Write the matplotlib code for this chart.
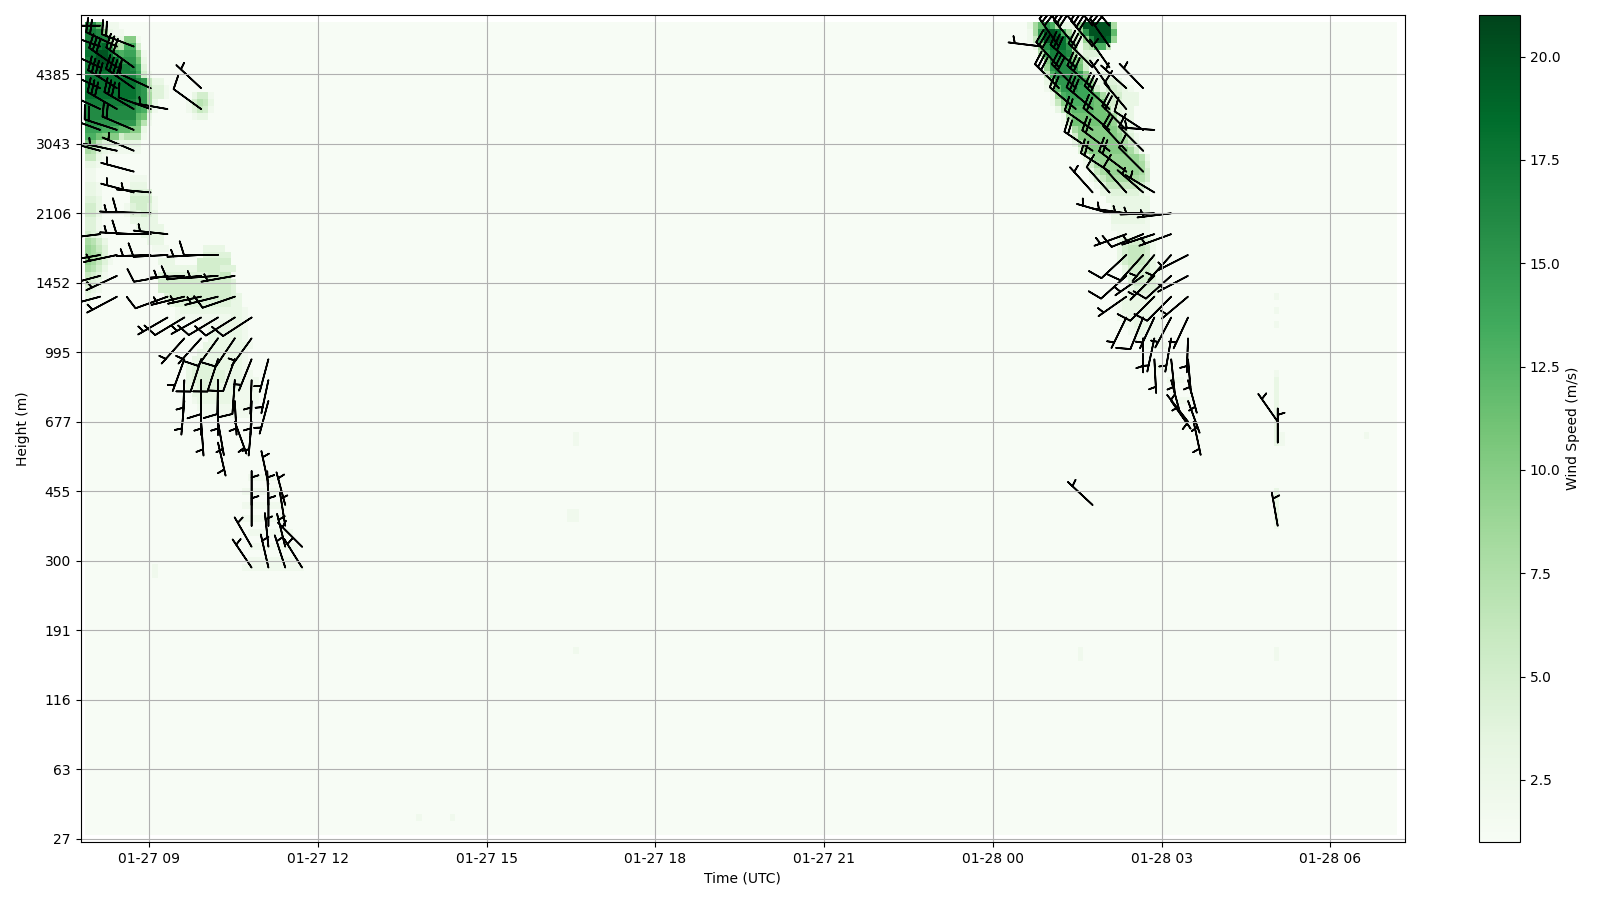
import numpy as np
import matplotlib
matplotlib.use('Agg')
import matplotlib.pyplot as plt

height_labels = [27, 63, 116, 191, 300, 455, 677, 995, 1452, 2106, 3043, 4385]
time_ticks = [9, 12, 15, 18, 21, 24, 27, 30]
time_labels = ['01-27 09', '01-27 12', '01-27 15', '01-27 18', '01-27 21', '01-28 00', '01-28 03', '01-28 06']

# hand read speeds: (row, first col, values)
heat_left = [
    (117, 0, [2, 15, 16, 12, 4, 2, 2]),
    (116, 0, [2, 17, 17, 16, 9, 3, 2, 2]),
    (115, 0, [3, 17, 17, 17, 16, 8, 4, 3, 10, 10, 2]),
    (114, 0, [4, 17, 17, 18, 19, 14, 8, 7, 13, 13, 5]),
    (113, 0, [5, 18, 18, 20, 20, 18, 14, 13, 14, 14, 9, 2]),
    (112, 0, [6, 17, 18, 20, 20, 19, 18, 15, 15, 15, 11, 3]),
    (111, 0, [8, 17, 18, 19, 19, 19, 18, 17, 17, 16, 13, 4]),
    (110, 0, [15, 18, 18, 18, 18, 18, 18, 17, 17, 17, 14, 5, 2]),
    (109, 0, [15, 18, 18, 18, 18, 18, 18, 18, 18, 18, 16, 15, 6, 3, 3]),
    (108, 0, [15, 18, 18, 18, 18, 18, 18, 18, 18, 18, 16, 15, 7, 4, 4, 2]),
    (107, 0, [15, 18, 18, 18, 18, 18, 18, 18, 18, 18, 16, 15, 8, 4, 4, 2]),
    (107, 20, [3, 5, 5, 2]),
    (106, 0, [14, 17, 17, 17, 17, 17, 17, 17, 17, 17, 15, 15, 8, 3]),
    (106, 19, [2, 5, 7, 6, 3]),
    (105, 0, [13, 16, 16, 16, 16, 16, 16, 16, 16, 16, 14, 13, 6, 2]),
    (105, 19, [2, 4, 6, 5, 2]),
    (104, 0, [13, 16, 16, 16, 16, 16, 16, 16, 16, 16, 12, 11, 3]),
    (104, 20, [2, 3, 3]),
    (103, 0, [12, 15, 15, 15, 15, 15, 15, 15, 15, 15, 11, 7, 2]),
    (102, 0, [11, 14, 14, 14, 13, 13, 13, 12, 12, 10, 10, 3]),
    (101, 0, [9, 13, 13, 11, 10, 10, 10, 5, 7, 7, 7, 2]),
    (100, 0, [6, 10, 10, 6, 4, 4, 4, 3, 3, 3, 3]),
    (99, 0, [4, 8, 7, 4, 3, 2, 2, 2, 2, 2, 2]),
    (98, 0, [3, 6, 6, 3, 2]),
    (97, 0, [2, 3, 3, 2]),
    (96, 0, [2, 2, 2]),
    (95, 0, [2, 2, 2]),
    (95, 9, [2, 2, 2]),
    (94, 0, [3, 3, 3, 2]),
    (94, 9, [3, 3, 3]),
    (93, 0, [3, 3, 3, 2]),
    (93, 9, [4, 4, 4, 4]),
    (92, 0, [4, 4, 4, 3]),
    (92, 9, [5, 5, 5, 5, 2]),
    (91, 0, [5, 5, 5, 3]),
    (91, 8, [2, 4, 5, 5, 4, 2]),
    (90, 0, [5, 5, 5, 3]),
    (90, 8, [2, 4, 4, 5, 4, 3]),
    (89, 0, [4, 4, 4, 2]),
    (89, 9, [3, 3, 3, 3, 3]),
    (88, 0, [4, 4, 4, 2]),
    (88, 10, [3, 3, 3, 3, 3]),
    (87, 0, [5, 5, 4, 3]),
    (87, 11, [3, 3, 3, 3]),
    (86, 0, [7, 8, 7, 5, 3]),
    (86, 12, [3, 3, 3]),
    (85, 0, [9, 9, 8, 6, 4]),
    (85, 13, [2, 2, 2]),
    (85, 22, [3, 3, 3, 3]),
    (84, 0, [9, 9, 8, 7, 4]),
    (84, 22, [4, 4, 4, 4, 4]),
    (83, 0, [8, 9, 8, 6, 4, 2]),
    (83, 14, [3, 3, 3]),
    (83, 21, [5, 5, 5, 5, 5, 5]),
    (82, 0, [8, 8, 7, 5, 3]),
    (82, 15, [3, 3, 3, 3, 3, 3, 5, 5, 5, 5, 4, 4, 4]),
    (81, 0, [6, 6, 5, 4, 2]),
    (81, 14, [4, 4, 4, 4, 4, 4, 4, 4, 4, 5, 5, 6, 6]),
    (80, 0, [5, 5, 4, 3]),
    (80, 14, [5, 5, 5, 5, 5, 5, 5, 5, 5, 5, 5, 5, 5, 4]),
    (79, 0, [4, 4, 3, 2]),
    (79, 14, [5, 5, 5, 5, 5, 5, 5, 5, 5, 5, 5, 5, 5, 4]),
    (78, 0, [3, 3, 2]),
    (78, 15, [4, 5, 5, 5, 5, 5, 5, 5, 5, 5, 5, 5, 4, 3]),
    (77, 0, [2, 2]),
    (77, 16, [3, 4, 4, 4, 4, 4, 4, 4, 4, 4, 4, 3, 3]),
    (76, 17, [2, 3, 3, 3, 3, 3, 3, 3, 3, 3, 3, 3, 2]),
    (75, 17, [2, 2, 2, 2, 2, 2, 2, 2, 2, 2, 3, 3, 2]),
    (74, 22, [2, 2, 2, 3, 3, 3, 3, 2]),
    (73, 23, [3, 3, 3, 3, 3, 3, 2]),
    (72, 23, [3, 3, 3, 3, 3, 3, 2]),
    (71, 22, [3, 3, 3, 3, 3, 3, 3, 3, 2]),
    (70, 21, [3, 3, 3, 3, 3, 3, 3, 3, 2]),
    (69, 20, [3, 3, 3, 3, 3, 3, 3, 3, 3, 2]),
    (68, 19, [3, 4, 4, 4, 4, 4, 3, 3, 3, 3, 2]),
    (67, 19, [3, 4, 4, 4, 4, 4, 4, 3, 3, 3, 2, 2]),
    (66, 19, [3, 4, 4, 4, 4, 4, 4, 3, 3, 3, 2, 2, 2]),
    (65, 19, [3, 3, 4, 4, 4, 4, 3, 3, 3, 3, 2, 2, 2]),
    (64, 20, [3, 3, 3, 3, 3, 3, 3, 3, 2, 2, 2, 2]),
    (63, 20, [2, 3, 3, 3, 3, 3, 3, 2, 2, 2, 2, 2]),
    (62, 21, [2, 2, 2, 2, 2, 2, 2, 2, 2, 2]),
    (61, 22, [2, 2, 2, 2, 2, 2, 2, 2, 2]),
    (52, 30, [2, 2, 2, 2, 2]),
    (50, 29, [2, 2, 2, 2, 2, 2, 2]),
    (48, 29, [2, 2, 2, 2, 2, 2, 2, 2]),
    (46, 29, [2, 2, 2, 2, 2, 2, 2, 2]),
    (44, 30, [2, 2, 2, 2, 2, 2, 2, 2]),
    (42, 30, [2, 2, 2, 2, 2, 2, 2, 2, 2]),
    (40, 30, [2, 2, 2, 2, 2, 2, 2, 2, 2]),
    (39, 29, [2, 2, 2, 2, 2, 2, 2, 2, 2, 2, 2]),
]

heat_right = [
    (117, 169, [3, 8, 12, 15, 13, 8, 3, 3, 3, 9, 20, 20, 20, 20, 20, 8]),
    (116, 169, [2, 8, 15, 20, 20, 18, 13, 8, 3, 9, 15, 20, 20, 20, 20, 12]),
    (115, 169, [2, 6, 14, 20, 20, 20, 18, 13, 5, 3, 9, 16, 20, 20, 19, 9]),
    (114, 170, [3, 9, 16, 18, 18, 18, 15, 7, 2, 6, 7, 13, 13, 6]),
    (113, 171, [7, 14, 17, 17, 17, 16, 8, 2, 4, 4, 4]),
    (112, 172, [10, 16, 16, 16, 14, 10, 10, 5, 3, 2]),
    (111, 172, [9, 15, 16, 16, 16, 15, 11, 5, 2, 2]),
    (110, 172, [6, 13, 16, 16, 16, 15, 15, 10, 3, 2, 3, 3]),
    (109, 172, [3, 9, 15, 15, 15, 15, 15, 13, 9, 3, 3, 4, 4, 3]),
    (108, 172, [2, 5, 12, 15, 15, 15, 14, 14, 12, 5, 3, 5, 5, 4, 3, 2]),
    (107, 173, [2, 9, 13, 14, 14, 14, 14, 13, 12, 8, 4, 5, 5, 3, 3, 3]),
    (106, 173, [2, 6, 10, 13, 13, 13, 13, 12, 11, 11, 5, 5, 4, 3, 3, 3]),
    (105, 174, [3, 7, 11, 12, 12, 12, 12, 11, 11, 8, 4, 4, 3, 3]),
    (104, 175, [2, 8, 11, 11, 11, 11, 11, 11, 11, 8, 4, 3, 3]),
    (103, 175, [2, 5, 11, 11, 11, 11, 11, 11, 11, 9, 5, 3, 3]),
    (102, 176, [2, 8, 10, 10, 10, 10, 10, 10, 10, 8, 5, 3]),
    (101, 177, [5, 10, 10, 10, 10, 10, 10, 10, 9, 7, 4, 2]),
    (100, 177, [3, 7, 10, 10, 10, 10, 10, 10, 10, 8, 6, 3]),
    (99, 178, [4, 8, 10, 10, 10, 10, 10, 10, 10, 8, 5, 2]),
    (98, 179, [3, 6, 9, 9, 9, 9, 9, 9, 9, 9, 7, 3]),
    (97, 179, [2, 5, 8, 9, 9, 9, 9, 9, 9, 9, 8, 4]),
    (96, 180, [3, 6, 8, 9, 9, 9, 9, 9, 9, 8, 5]),
    (95, 180, [2, 4, 6, 8, 8, 8, 8, 8, 8, 7, 5]),
    (94, 181, [2, 4, 6, 6, 6, 6, 6, 6, 5, 3]),
    (93, 182, [3, 3, 4, 4, 4, 4, 4, 3, 2]),
    (92, 183, [3, 3, 3, 3, 3, 3, 3, 3]),
    (91, 184, [3, 3, 3, 3, 3, 3, 3]),
    (90, 184, [3, 3, 3, 3, 3, 3, 3]),
    (89, 184, [3, 3, 3, 3, 3, 3, 2]),
    (88, 184, [2, 2, 2, 2, 2, 2, 2]),
    (87, 185, [2, 2, 2, 2, 2, 2]),
    (86, 185, [3, 4, 5, 5, 5, 4, 2]),
    (85, 185, [3, 5, 6, 6, 6, 5, 2]),
    (84, 185, [3, 5, 6, 6, 6, 5, 2]),
    (83, 185, [3, 5, 6, 6, 6, 5, 3]),
    (82, 186, [3, 5, 5, 5, 5, 3, 2]),
    (81, 186, [3, 4, 5, 5, 5, 4, 2]),
    (80, 187, [4, 5, 5, 5, 4, 3]),
    (79, 187, [3, 4, 4, 4, 4, 3]),
    (78, 186, [2, 3, 3, 3, 3, 3, 2]),
    (77, 185, [2, 3, 3, 3, 3, 3, 2, 2]),
    (76, 185, [2, 3, 3, 3, 3, 3, 2, 2]),
    (75, 185, [2, 2, 3, 3, 3, 3, 2, 2]),
    (74, 186, [2, 2, 3, 3, 3, 2, 2]),
    (73, 187, [2, 2, 3, 2, 2, 2]),
    (72, 188, [2, 2, 2, 2, 2]),
    (71, 190, [2, 2, 2, 2]),
    (68, 192, [2, 2, 2]),
    (66, 194, [2, 2, 2]),
    (63, 196, [2, 2]),
]

# small faint spots on the rest of the panel: (row, col, value)
heat_spots = [
    (78, 213, 2), (76, 213, 2), (74, 213, 2),
    (67, 213, 2), (66, 213, 3), (65, 213, 3), (64, 213, 3), (63, 213, 3), (62, 213, 3), (61, 213, 3),
    (60, 213, 3), (59, 213, 3), (58, 213, 3), (57, 213, 3), (58, 214, 2), (57, 214, 2),
    (50, 213, 3), (49, 213, 3), (48, 213, 3), (47, 213, 3), (46, 213, 3), (45, 213, 2),
    (58, 88, 2), (57, 88, 2), (47, 87, 2), (46, 87, 2), (47, 88, 2), (46, 88, 2),
    (58, 229, 2), (27, 213, 2), (26, 213, 2), (27, 178, 2), (26, 178, 2), (27, 88, 2),
    (3, 60, 2), (3, 66, 2), (39, 13, 2), (38, 13, 2),
]

# barbs: (row, col, direction of staff in degrees, speed)
barbs_left = [
    (117, 3, 180, 5), (114, 3, 160, 20), (114, 6, 155, 20), (114, 9, 159, 20),
    (111, 3, 155, 30), (111, 6, 145, 30), (111, 9, 144, 30),
    (108, 3, 155, 30), (108, 6, 148, 40), (108, 9, 145, 40), (108, 12, 155, 10), (108, 21, 137, 5),
    (105, 3, 155, 30), (105, 6, 150, 30), (105, 9, 150, 30), (105, 12, 160, 10), (105, 15, 170, 5), (105, 21, 144, 10),
    (102, 3, 160, 20), (102, 6, 162, 20), (102, 9, 157, 20),
    (99, 3, 165, 5), (99, 6, 168, 5), (99, 9, 157, 5),
    (96, 9, 165, 5), (93, 9, 165, 5), (93, 12, 175, 5),
    (90, 9, 177, 5), (90, 12, 178, 10),
    (87, 3, 187, 5), (87, 9, 177, 5), (87, 12, 180, 10), (87, 15, 174, 5),
    (84, 3, 190, 5), (84, 6, 192, 5), (84, 12, 182, 5), (84, 15, 183, 10), (84, 21, 183, 5), (84, 24, 180, 10),
    (81, 3, 195, 5), (81, 6, 205, 5), (81, 15, 190, 10), (81, 18, 183, 5), (81, 21, 186, 10), (81, 24, 184, 5), (81, 27, 190, 5),
    (78, 3, 195, 5), (78, 6, 208, 5), (78, 15, 200, 10), (78, 18, 194, 5), (78, 21, 192, 5), (78, 24, 194, 5), (78, 27, 199, 10),
    (75, 15, 210, 5), (75, 18, 211, 10), (75, 21, 209, 5), (75, 24, 211, 10), (75, 27, 212, 10), (75, 30, 213, 10),
    (72, 18, 228, 5), (72, 21, 228, 5), (72, 24, 234, 10), (72, 27, 236, 10), (72, 30, 234, 5),
    (69, 18, 250, 5), (69, 21, 252, 10), (69, 24, 252, 10), (69, 27, 250, 10), (69, 30, 248, 5), (69, 33, 255, 5),
    (66, 18, 268, 5), (66, 21, 270, 10), (66, 24, 269, 10), (66, 27, 266, 10), (66, 30, 268, 5), (66, 33, 258, 5),
    (63, 18, 265, 5), (63, 21, 270, 5), (63, 24, 270, 5), (63, 27, 273, 5), (63, 30, 268, 5), (63, 33, 255, 5),
    (60, 21, 274, 5), (60, 24, 280, 5), (60, 27, 290, 5), (60, 30, 265, 5),
    (57, 24, 283, 5), (51, 33, 102, 5),
    (48, 30, 90, 5), (48, 33, 92, 5), (48, 36, 105, 5),
    (45, 30, 90, 5), (45, 33, 90, 5), (45, 36, 99, 5),
    (42, 30, 120, 5), (42, 33, 96, 5), (42, 36, 104, 5), (42, 39, 135, 5),
    (39, 30, 124, 5), (39, 33, 103, 5), (39, 36, 108, 5), (39, 39, 122, 5),
]

barbs_right = [
    (117, 174, 125, 30), (117, 177, 130, 30), (117, 180, 130, 30), (117, 183, 130, 30),
    (114, 171, 173, 5), (114, 174, 125, 30), (114, 177, 130, 30), (114, 180, 130, 40), (114, 183, 125, 30),
    (111, 174, 132, 30), (111, 177, 138, 30), (111, 180, 135, 30), (111, 183, 125, 5),
    (108, 174, 135, 30), (108, 177, 135, 30), (108, 180, 138, 30), (108, 183, 125, 5), (108, 186, 138, 5), (108, 189, 134, 5),
    (105, 177, 140, 20), (105, 180, 140, 30), (105, 183, 137, 30), (105, 186, 130, 10),
    (102, 180, 145, 20), (102, 183, 140, 20), (102, 186, 135, 20), (102, 189, 147, 10), (102, 191, 176, 5),
    (99, 180, 146, 20), (99, 183, 143, 20), (99, 186, 133, 20), (99, 189, 135, 10),
    (96, 183, 147, 20), (96, 186, 143, 20), (96, 189, 135, 10),
    (93, 180, 132, 5), (93, 183, 132, 10), (93, 186, 132, 10), (93, 189, 139, 5), (93, 191, 149, 5),
    (90, 183, 164, 5), (90, 186, 172, 5), (90, 189, 179, 5), (90, 191, 182, 5), (90, 194, 187, 5),
    (87, 186, 200, 5), (87, 189, 202, 10), (87, 191, 198, 5), (87, 194, 200, 5),
    (84, 186, 223, 10), (84, 189, 228, 10), (84, 191, 230, 5), (84, 194, 228, 5), (84, 197, 207, 5),
    (81, 186, 222, 10), (81, 189, 215, 5), (81, 191, 225, 5), (81, 194, 222, 10), (81, 197, 208, 5),
    (78, 186, 215, 5), (78, 191, 225, 10), (78, 194, 225, 10), (78, 197, 220, 5),
    (75, 186, 244, 5), (75, 189, 248, 10), (75, 191, 245, 5), (75, 194, 242, 5), (75, 197, 245, 5),
    (72, 189, 270, 5), (72, 191, 258, 5), (72, 194, 260, 5), (72, 197, 268, 5),
    (69, 191, 273, 5), (69, 194, 276, 5), (69, 197, 275, 5),
    (66, 194, 285, 5), (66, 197, 285, 5),
    (63, 194, 305, 5), (63, 197, 290, 5),
    (60, 197, 128, 5), (60, 198, 282, 5),
    (60, 213, 125, 5), (57, 213, 90, 5), (48, 180, 137, 5), (45, 213, 100, 5),
]

n_rows = 119
n_cols = 236
col_hours = 7.829 + 0.0997 * np.arange(n_cols)
speed = np.ones((n_rows, n_cols))
for row, first, vals in heat_left + heat_right:
    speed[row, first:first + len(vals)] = vals
for row, col, val in heat_spots:
    speed[row, col] = val
# outer cells carry no data
speed[0, :] = np.nan
speed[118, :] = np.nan
speed[:, 0] = np.nan
speed[:, 235] = np.nan

x_edges = np.append(col_hours - 0.0997 * 0.7, col_hours[-1] + 0.0997 * 0.3)
y_edges = np.arange(n_rows + 1) - 0.5

barbs = np.array(barbs_left + barbs_right, dtype=float)
b_rows, b_cols, b_dir, b_speed = barbs.T
# the staff points to where the wind comes from
b_u = -b_speed * np.cos(np.radians(b_dir))
b_v = -b_speed * np.sin(np.radians(b_dir))

fig = plt.figure(figsize=(16, 9), dpi=100)
ax = fig.add_axes([80.6 / 1600, 1 - 842 / 900, (1405 - 80.6) / 1600, (842 - 15.3) / 900])
cax = fig.add_axes([1478.6 / 1600, 1 - 842 / 900, (1520 - 1478.6) / 1600, (842 - 15.3) / 900])

mesh = ax.pcolormesh(x_edges, y_edges, speed, cmap='Greens', vmin=1, vmax=21)
ax.barbs(col_hours[b_cols.astype(int)], b_rows, b_u, b_v, length=7, linewidth=1.2, color='black')

ax.set_xlim(7.829 - 0.0997 * 0.5, 7.829 + 0.0997 * 235.7)
ax.set_ylim(-0.5, 118.5)
ax.set_yticks(np.arange(len(height_labels)) * 10)
ax.set_yticklabels(height_labels)
ax.set_xticks(time_ticks)
ax.set_xticklabels(time_labels)
ax.set_xlabel('Time (UTC)')
ax.set_ylabel('Height (m)')
ax.grid(True)

cbar = fig.colorbar(mesh, cax=cax)
cbar.set_label('Wind Speed (m/s)')

fig.savefig('out.png', dpi=100)
